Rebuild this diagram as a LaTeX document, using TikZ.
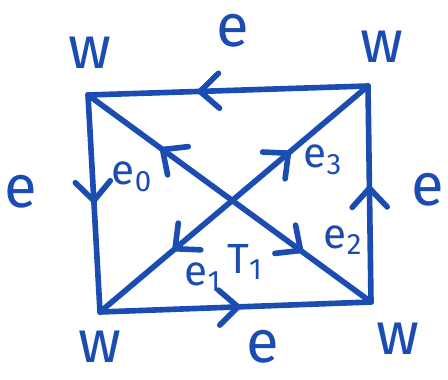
\documentclass[tikz,border=0pt]{standalone}
\usepackage{fontspec}
\setmainfont{Fira Sans}
\usetikzlibrary{arrows.meta,decorations.markings}
\definecolor{pen}{RGB}{26,76,178}
\tikzset{
  inkline/.style={line width=3.2pt, draw=pen, line cap=round, line join=round},
  flow/.style={postaction={decorate}, decoration={markings,
    mark=at position #1 with {\arrow{Straight Barb[length=3.8mm, width=7mm, round]}}}},
  bigletter/.style={text=pen, inner sep=0pt, font=\fontsize{34}{34}\selectfont},
  smallletter/.style={text=pen, inner sep=0pt, font=\fontsize{24}{24}\selectfont},
}

\begin{document}
\begin{tikzpicture}
\useasboundingbox (0,0) rectangle (8.96,7.58);
\coordinate (tl) at (1.76,5.68);
\coordinate (tr) at (7.36,5.86);
\coordinate (br) at (7.42,1.54);
\coordinate (bl) at (2.00,1.34);
\coordinate (mid) at (intersection of tl--br and bl--tr);
% outer square, counter-clockwise
\draw[inkline, flow=0.61] (tr) -- (tl);
\draw[inkline, flow=0.50] (tl) -- (bl);
\draw[inkline, flow=0.52] (bl) -- (br);
\draw[inkline, flow=0.54] (br) -- (tr);
% half diagonals, all pointing away from the middle
\draw[inkline, flow=0.50] (mid) -- (tl);
\draw[inkline, flow=0.51] (mid) -- (br);
\draw[inkline, flow=0.43] (mid) -- (tr);
\draw[inkline, flow=0.45] (mid) -- (bl);
% corner and side labels
\node[bigletter] (wtl) at (1.80,6.52) {w};
\node[bigletter] (wtr) at (7.64,6.64) {w};
\node[bigletter] (wbl) at (2.00,0.64) {w};
\node[bigletter] (wbr) at (7.96,0.80) {w};
\node[bigletter] (etop) at (4.66,6.96) {e};
\node[bigletter] (eleft) at (0.42,3.74) {e};
\node[bigletter] (eright) at (8.56,3.78) {e};
\node[bigletter] (ebottom) at (5.26,0.64) {e};
% diagonal labels
\node[smallletter] (ezero) at (2.64,4.04) {e\textsubscript{0}};
\node[smallletter] (eone) at (4.06,2.04) {e\textsubscript{1}};
\node[smallletter] (etwo) at (6.86,2.78) {e\textsubscript{2}};
\node[smallletter] (ethree) at (6.46,4.38) {e\textsubscript{3}};
\node[smallletter] (tone) at (4.90,2.34) {T\textsubscript{1}};
\end{tikzpicture}
\end{document}
